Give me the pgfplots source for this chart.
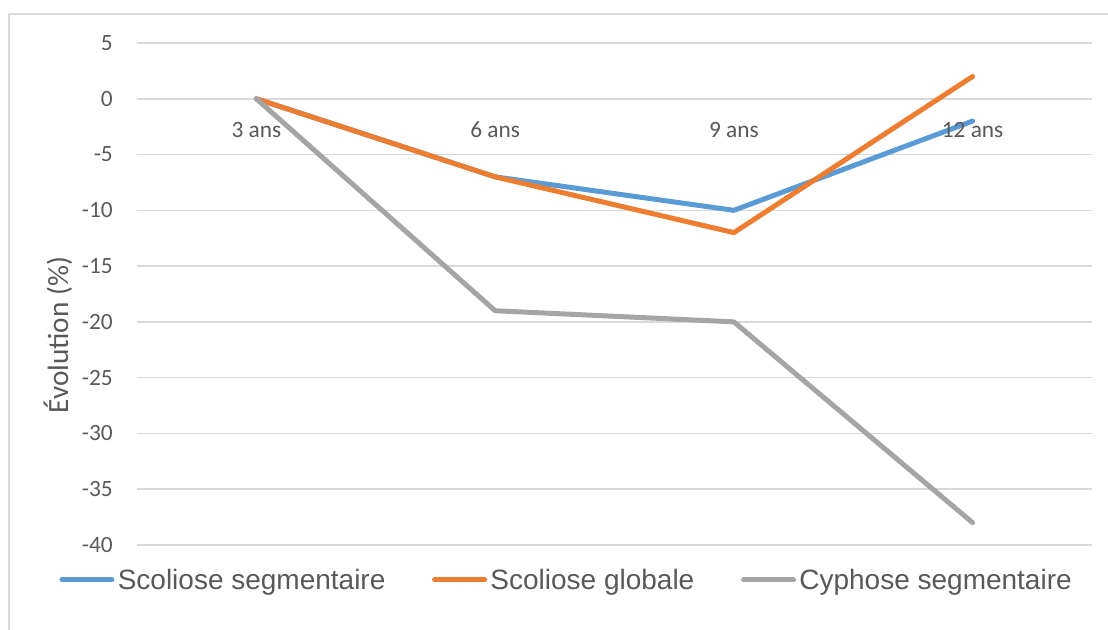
\documentclass[border=0pt]{standalone}
\usepackage{pgfplots}
\pgfplotsset{compat=1.18}
\usepackage{fontspec}
\setmainfont{Carlito}
\newfontfamily\legendfont{Liberation Sans}

\definecolor{serieblue}{HTML}{5B9BD5}
\definecolor{serieorange}{HTML}{ED7D31}
\definecolor{seriegray}{HTML}{A5A5A5}
\definecolor{labelgray}{HTML}{595959}
\definecolor{gridgray}{HTML}{D9D9D9}

\begin{document}
\begin{tikzpicture}
\useasboundingbox (0pt,0pt) rectangle (831pt,472.5pt);
% chart frame
\draw[gridgray, line width=1.4pt] (6.75pt,-15pt) -- (6.75pt,462pt) -- (848pt,462pt);

\begin{axis}[
  at={(102.75pt,63.75pt)}, anchor=south west,
  scale only axis, width=716.25pt, height=376.5pt,
  xmin=-0.5, xmax=3.5, ymin=-40, ymax=5,
  xtick=\empty,
  ytick={-40,-35,-30,-25,-20,-15,-10,-5,0,5},
  yticklabels={-40,-35,-30,-25,-20,-15,-10,-5,0,5},
  major tick length=0pt,
  yticklabel style={font=\fontsize{17.5}{20}\selectfont, text=labelgray, anchor=east, inner sep=0pt, xshift=-18pt},
  ymajorgrids, grid style={gridgray, line width=1.1pt},
  axis line style={draw=none},
  ylabel={Évolution (\%)},
  every axis y label/.style={at={(rel axis cs:-0.0827,0.418)}, rotate=90, anchor=center,
    font=\fontsize{22}{26}\selectfont, text=labelgray},
  legend columns=-1,
  legend style={at={(rel axis cs:-0.0815,-0.0697)}, anchor=west, draw=none, fill=none,
    inner xsep=0pt, inner ysep=0pt,
    font=\legendfont\fontsize{21}{24}\selectfont, text=labelgray,
    nodes={inner sep=0pt},
    /tikz/every odd column/.append style={column sep=2.5pt},
    /tikz/every even column/.append style={column sep=35pt}},
  legend image code/.code={\draw[line width=3.75pt, line cap=round] (1.9pt,0) -- (39.4pt,0);},
  every axis plot/.append style={line width=3.75pt, line cap=round, line join=round, mark=none},
]
\addplot[serieblue] coordinates {(0,0) (1,-7) (2,-10) (3,-2)};
\addlegendentry{Scoliose segmentaire}
\addplot[serieorange] coordinates {(0,0) (1,-7) (2,-12) (3,2)};
\addlegendentry{Scoliose globale}
\addplot[seriegray] coordinates {(0,0) (1,-19) (2,-20) (3,-38)};
\addlegendentry{Cyphose segmentaire}

% category names sit just under the zero line
\node[anchor=base, inner sep=0pt, text=labelgray, font=\fontsize{17.5}{20}\selectfont, yshift=-29pt] at (axis cs:0,0) {3 ans};
\node[anchor=base, inner sep=0pt, text=labelgray, font=\fontsize{17.5}{20}\selectfont, yshift=-29pt] at (axis cs:1,0) {6 ans};
\node[anchor=base, inner sep=0pt, text=labelgray, font=\fontsize{17.5}{20}\selectfont, yshift=-29pt] at (axis cs:2,0) {9 ans};
\node[anchor=base, inner sep=0pt, text=labelgray, font=\fontsize{17.5}{20}\selectfont, yshift=-29pt] at (axis cs:3,0) {12 ans};
\end{axis}
\end{tikzpicture}
\end{document}
